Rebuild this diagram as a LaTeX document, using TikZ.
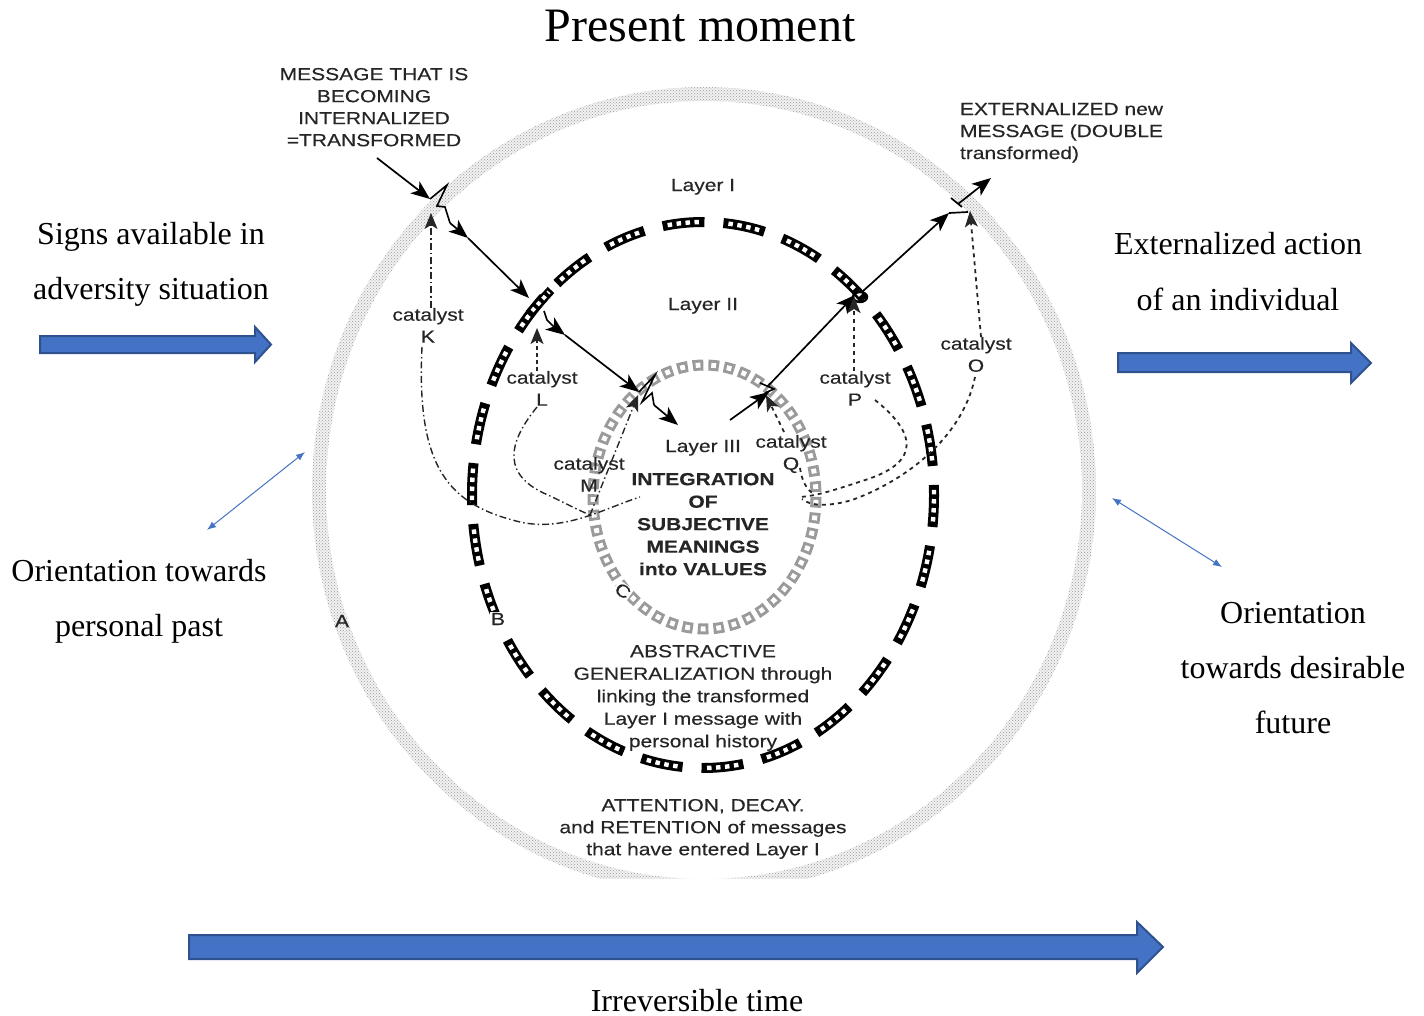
\documentclass[tikz,border=0pt]{standalone}
\usepackage{fontspec}
\setmainfont{Liberation Serif}
\newfontfamily\diagfont[FakeStretch=1.2,FakeBold=0.3]{Liberation Sans}
\usetikzlibrary{arrows.meta,patterns}

\definecolor{blockblue}{HTML}{4472C4}
\definecolor{blockedge}{HTML}{2F528F}
\definecolor{ink}{HTML}{252525}
\definecolor{squaregray}{HTML}{9A9A9A}

\begin{document}
\begin{tikzpicture}[x=1pt,y=-1pt,
  every node/.style={inner sep=0pt,outer sep=0pt},
  serif/.style={font=\fontsize{32}{38}\selectfont,anchor=base},
  headline/.style={font=\fontsize{48}{56}\selectfont,anchor=base},
  diag/.style={font=\diagfont\fontsize{17.5}{22}\selectfont,text=ink,align=center,anchor=north},
  diagbold/.style={diag,font=\diagfont\bfseries\fontsize{17.5}{22.5}\selectfont},
  onring/.style={diag,fill=white,inner sep=1pt},
  blockarrow/.style={fill=blockblue,draw=blockedge,line width=2pt,line join=miter},
  thinblue/.style={draw=blockblue,line width=1pt,
    {Latex[length=9pt,width=7pt]}-{Latex[length=9pt,width=7pt]}},
  flow/.style={draw=black,line width=1.7pt,-{Stealth[length=19pt,width=15pt,inset=5pt]}},
  bolt/.style={draw=black,line width=1.6pt,line join=miter},
  plainline/.style={draw=black,line width=1.7pt},
  kline/.style={draw=black!85,line width=1.4pt,dash pattern=on 7pt off 3pt on 1.5pt off 3pt},
  lline/.style={draw=black!85,line width=1.8pt,dash pattern=on 4pt off 3pt},
  rline/.style={draw=black!85,line width=1.8pt,dash pattern=on 4pt off 4pt},
  catip/.style={-{Stealth[length=16pt,width=13pt,inset=4pt]}},
  chainlink/.style={draw=black,line width=9pt},
  chainhole/.style={draw=white,line width=4pt,dash pattern=on 4pt off 4pt}
]
\useasboundingbox (0,0) rectangle (1424,1016);

% ---- outer halftone ring (layer I boundary), cut off at the bottom
\begin{scope}
  \clip (0,0) rectangle (1424,878);
  \fill[black!5,even odd rule] (704,490) ellipse [x radius=392,y radius=403]
                               (704,490) ellipse [x radius=378,y radius=389];
  \fill[pattern=crosshatch dots,pattern color=black!40,even odd rule]
        (704,490) ellipse [x radius=392,y radius=403]
        (704,490) ellipse [x radius=378,y radius=389];
\end{scope}

% ---- middle chain ellipse (layer II boundary)
\draw[line width=10pt,dash pattern=on 42pt off 19.01pt,dash phase=10pt]
  (703,495) ellipse [x radius=231,y radius=273];
\draw[white,line width=4.4pt,
  dash pattern=on 4.5pt off 4.5pt on 4.5pt off 4.5pt on 4.5pt off 4.5pt on 4.5pt off 29.51pt,
  dash phase=66pt]
  (703,495) ellipse [x radius=231,y radius=273];

% ---- inner ring of hollow squares (layer III boundary)
\draw[squaregray,line width=11pt,dash pattern=on 10.6pt off 5.04pt]
  (704.5,497) ellipse [x radius=111.5,y radius=132];
\draw[white,line width=5pt,dash pattern=on 4.8pt off 10.84pt,dash phase=12.74pt]
  (704.5,497) ellipse [x radius=111.5,y radius=132];

% ---- headings and side labels
\node[headline] (title) at (700,42) {Present moment};
\node[serif] (signs1) at (151,245) {Signs available in};
\node[serif] (signs2) at (151,300) {adversity situation};
\node[serif] (ext1) at (1238,255) {Externalized action};
\node[serif] (ext2) at (1238,310) {of an individual};
\node[serif] (past1) at (139,581) {Orientation towards};
\node[serif] (past2) at (139,636) {personal past};
\node[serif] (fut1) at (1293,623) {Orientation};
\node[serif] (fut2) at (1293,678) {towards desirable};
\node[serif] (fut3) at (1293,733) {future};
\node[serif] (irrev) at (697,1011) {Irreversible time};

% ---- block arrows
\draw[blockarrow] (40,336) -- (255,336) -- (255,327) -- (271,344.5) -- (255,362)
  -- (255,353) -- (40,353) -- cycle;
\draw[blockarrow] (1118,353) -- (1351,353) -- (1351,343) -- (1371,363) -- (1351,383)
  -- (1351,372) -- (1118,372) -- cycle;
\draw[blockarrow] (189,935) -- (1137,935) -- (1137,922) -- (1163,947) -- (1137,973)
  -- (1137,959) -- (189,959) -- cycle;

% ---- orientation arrows
\coordinate (pastA) at (207,530);
\coordinate (pastB) at (305,452);
\coordinate (futA) at (1112,498);
\coordinate (futB) at (1222,567);
\draw[thinblue] (pastA) -- (pastB);
\draw[thinblue] (futA) -- (futB);

% ---- diagram texts
\node[diag] (msgIn) at (374,68) {MESSAGE THAT IS\\BECOMING\\INTERNALIZED\\=TRANSFORMED};
\node[diag,align=left,anchor=north west] (msgOut) at (960,103)
  {EXTERNALIZED new\\MESSAGE (DOUBLE\\transformed)};
\node[diag] (lay1) at (703,179) {Layer I};
\node[diag] (lay2) at (703,298) {Layer II};
\node[diag] (lay3) at (703,440) {Layer III};
\node[diag] (catK) at (428,308) {catalyst\\K};
\node[diag] (catL) at (542,371) {catalyst\\L};
\node[diag] (catM) at (589,457) {catalyst\\M};
\node[diag] (catQ) at (791,435) {catalyst\\Q};
\node[diag] (catP) at (855,371) {catalyst\\P};
\node[diag] (catO) at (976,337) {catalyst\\O};
\node[diagbold] (integ) at (703,473) {INTEGRATION\\OF\\SUBJECTIVE\\MEANINGS\\into VALUES};
\node[diag,font=\diagfont\fontsize{17.5}{22.5}\selectfont] (abstr) at (703,645)
  {ABSTRACTIVE\\GENERALIZATION through\\linking the transformed\\Layer I message with\\personal history};
\node[diag] (attn) at (703,799)
  {ATTENTION, DECAY.\\and RETENTION of messages\\that have entered Layer I};
\node[diag] (labA) at (342,615) {A};
\node[onring] (labB) at (498,612) {B};
\node[onring,rotate=-35] (labC) at (627,585) {C};

% ---- incoming message: outer ring -> layer II -> layer III
\coordinate (p0) at (377,158);
\coordinate (p1) at (430,199);
\coordinate (p2) at (450,223);
\coordinate (p3) at (468,238);
\coordinate (p4) at (529,298);
\coordinate (p5) at (544,311);
\coordinate (p6) at (565,335);
\coordinate (p7) at (639,392);
\coordinate (p8) at (654,405);
\coordinate (p9) at (678,425);
\draw[flow] (p0) -- (p1);
\draw[bolt] (p1) -- (447,185) -- (437,206) -- (445,207) -- (p2);
\draw[flow] (p2) -- (p3);
\draw[flow] (p3) -- (p4);
\draw[chainlink] (529,314) -- (551,290);
\draw[chainhole] (532,311) -- (549,292);
\draw[bolt] (p5) -- (547,320) -- (553,326);
\draw[flow] (553,326) -- (p6);
\draw[flow] (p6) -- (p7);
\draw[bolt] (p7) -- (655,375) -- (642,402) -- (652,393) -- (p8);
\draw[flow] (p8) -- (p9);

% ---- outgoing message: layer III -> layer II -> outer ring -> out
\coordinate (q0) at (730,420);
\coordinate (q1) at (769,392);
\coordinate (q2) at (768,386);
\coordinate (q3) at (855,295);
\coordinate (q4) at (863,291);
\coordinate (q5) at (949,213);
\coordinate (q6) at (968,212);
\coordinate (q7) at (958,204);
\coordinate (q8) at (991,178);
\draw[flow] (q0) -- (q1);
\draw[bolt] (760,383) -- (774,389) -- (765,393);
\draw[flow] (q2) -- (q3);
\draw[line width=2.4pt] (860,297) ellipse [x radius=7,y radius=5];
\draw[flow,rounded corners=4pt] (q4) -- (872,283) -- (q5);
\draw[plainline] (q5) -- (q6);
\draw[flow] (q7) -- (q8);
\draw[plainline] (951,198) -- (962,207);

% ---- catalysts acting on the message
\coordinate (kTip) at (431,213);
\coordinate (lTip) at (537,328);
\coordinate (mFoot) at (590,515);
\coordinate (mTip) at (638,395);
\coordinate (qFoot) at (784,432);
\coordinate (qTip) at (766,395);
\coordinate (pTip) at (854,297);
\coordinate (oTip) at (970,211);
\draw[kline,catip] (catK.north -| kTip) -- (kTip);
\draw[lline,catip] (catL.north -| lTip) -- (lTip);
\draw[kline,catip] (mFoot) -- (mTip);
\draw[rline,catip] (qFoot) -- (qTip);
\draw[rline,catip] (catP.north -| pTip) -- (pTip);
\draw[rline,catip] ([xshift=5pt]catO.north) -- (oTip);

% ---- catalyst links reaching into the core
\coordinate (kCurve) at (422,347);
\coordinate (kEnd) at (640,497);
\coordinate (lCurve) at (537,407);
\coordinate (pCurve) at (875,400);
\coordinate (pEnd) at (800,497);
\coordinate (oCurve) at (975,377);
\coordinate (oEnd) at (802,499);
\coordinate (qCurve) at (800,468);
\coordinate (qEnd) at (815,495);
\draw[kline] (kCurve) .. controls (416,470) and (450,505) .. (520,522)
  .. controls (565,532) and (605,508) .. (kEnd);
\draw[kline] (lCurve) .. controls (506,445) and (503,476) .. (548,495)
  .. controls (565,503) and (578,510) .. (mFoot);
\draw[rline] (pCurve) .. controls (925,440) and (912,466) .. (862,481)
  .. controls (832,491) and (815,496) .. (pEnd);
\draw[rline] (oCurve) .. controls (962,440) and (902,482) .. (852,500)
  .. controls (828,507) and (810,506) .. (oEnd);
\draw[rline] (qCurve) .. controls (802,482) and (807,490) .. (qEnd);
\end{tikzpicture}
\end{document}
